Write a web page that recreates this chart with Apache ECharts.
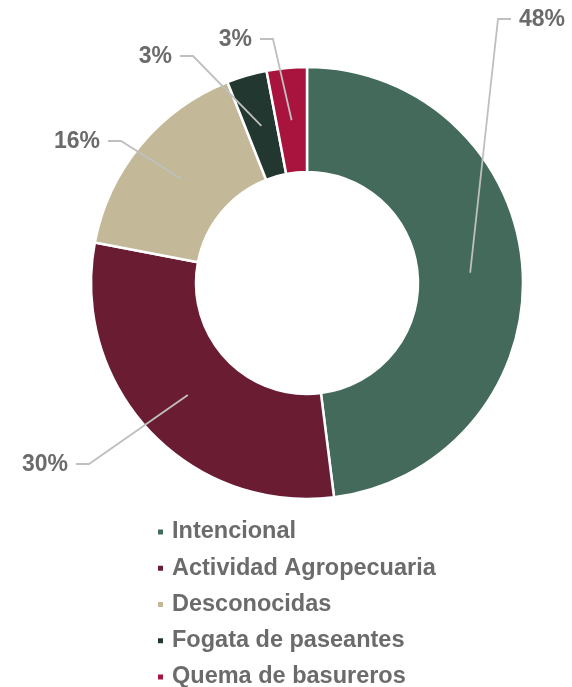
<!DOCTYPE html>
<html>
<head>
<meta charset="utf-8">
<script src="https://cdn.jsdelivr.net/npm/echarts@6/dist/echarts.min.js"></script>
<style>
  html, body { margin: 0; padding: 0; background: #fff; }
  #main { width: 572px; height: 687px; }
</style>
</head>
<body>
<div id="main"></div>
<script>
var causes = ['Intencional', 'Actividad Agropecuaria', 'Desconocidas', 'Fogata de paseantes', 'Quema de basureros']
var shares = [48, 30, 16, 3, 3]
var colors = ['#436a5a', '#6a1c32', '#c3b998', '#22372f', '#a8143e']

// where the percent labels sit (x is the text edge nearest the ring)
var labelSpots = [
	{x: 519, y: 20, side: 'left'},
	{x: 68, y: 465, side: 'right'},
	{x: 100, y: 142, side: 'right'},
	{x: 172, y: 57, side: 'right'},
	{x: 252, y: 40, side: 'right'}
]

var pieData = causes.map(function(name, i) {
	return {name: name, value: shares[i], itemStyle: {color: colors[i]}}
})

var chart = echarts.init(document.getElementById('main'))
var font = 'Liberation Sans, Arial, sans-serif'

var option = {
	animation: false,
	legend: {
		orient: 'vertical',
		left: 156,
		top: 519,
		height: 200,
		padding: 0,
		itemGap: 10.25,
		itemWidth: 7,
		itemHeight: 7,
		icon: 'rect',
		textStyle: {
			fontFamily: font,
			fontWeight: 'bold',
			fontSize: 23.5,
			lineHeight: 26,
			color: '#6b6b6b',
			padding: [0, 0, 0, 3]
		},
		data: causes
	},
	series: [{
		type: 'pie',
		center: [307, 283],
		radius: [111, 216],
		startAngle: 90,
		clockwise: true,
		silent: true,
		itemStyle: {
			borderColor: '#fff',
			borderWidth: 2.5
		},
		label: {show: false},
		labelLine: {show: false},
		data: pieData
	}, {
		// transparent copy, only to hang the leader lines at mid-ring
		type: 'pie',
		center: [307, 283],
		radius: [0, 163.5],
		startAngle: 90,
		clockwise: true,
		silent: true,
		z: 3,
		itemStyle: {color: 'rgba(0,0,0,0)'},
		label: {
			show: true,
			position: 'outside',
			formatter: '{c}%',
			fontFamily: font,
			fontWeight: 'bold',
			fontSize: 23,
			color: '#6b6b6b'
		},
		labelLine: {
			show: true,
			length: 10,
			length2: 10,
			lineStyle: {color: '#bfbfbf', width: 1.8}
		},
		labelLayout: function(params) {
			var s = labelSpots[params.dataIndex]
			var start = params.labelLinePoints[0]
			var dir = s.side === 'left' ? -1 : 1
			return {
				x: s.x,
				y: s.y,
				align: s.side,
				verticalAlign: 'middle',
				labelLinePoints: [
					start,
					[s.x + dir * 21, s.y - 1],
					[s.x + dir * 8, s.y - 1]
				]
			}
		},
		data: causes.map(function(name, i) {
			return {name: name, value: shares[i]}
		})
	}]
}

chart.setOption(option)
</script>
</body>
</html>
